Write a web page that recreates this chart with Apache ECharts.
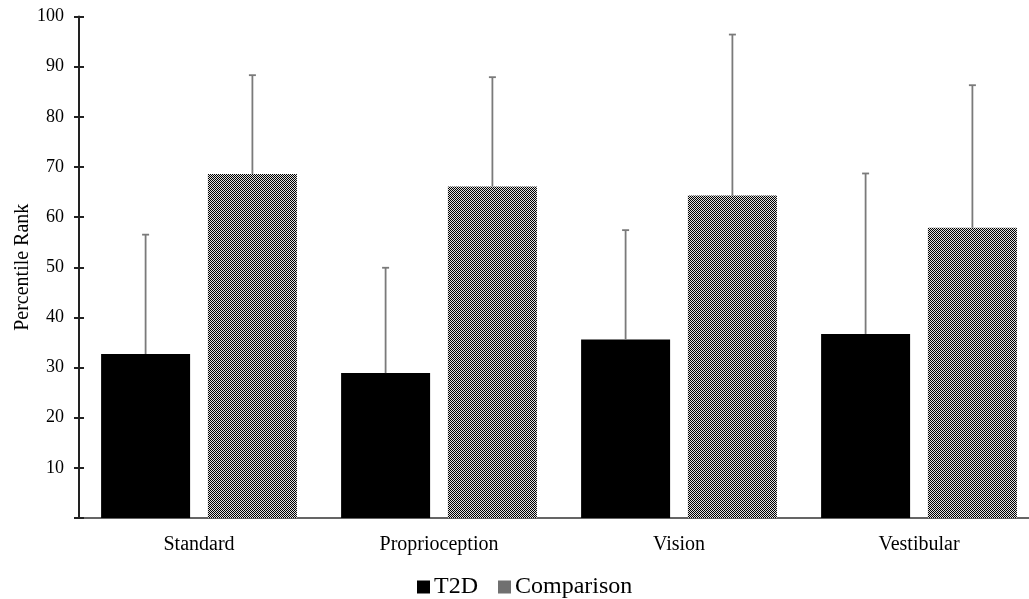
<!DOCTYPE html>
<html>
<head>
<meta charset="utf-8">
<script src="https://cdn.jsdelivr.net/npm/echarts@6/dist/echarts.min.js"></script>
<style>
html,body{margin:0;padding:0;background:#fff;}
#chart{width:1029px;height:599px;}
</style>
</head>
<body>
<div id="chart"></div>
<script>
// ---- data ----
var categories = ['Standard', 'Proprioception', 'Vision', 'Vestibular'];
var seriesNames = ['T2D', 'Comparison'];
var t2dMean = [32.7, 28.9, 35.6, 36.7];
var t2dUpper = [56.5, 49.9, 57.4, 68.7];
var compMean = [68.6, 66.1, 64.3, 57.9];
var compUpper = [88.3, 87.9, 96.4, 86.3];
var yTicks = [0, 10, 20, 30, 40, 50, 60, 70, 80, 90, 100];

// ---- styles ----
var FONT = 'Liberation Serif';
var BAR_W = 89;
var BAR_GAP = 0.2;

function makePattern() {
  var c = document.createElement('canvas');
  c.width = 2; c.height = 2;
  var ctx = c.getContext('2d');
  ctx.fillStyle = '#e0e0e0';
  ctx.fillRect(0, 0, 2, 2);
  ctx.fillStyle = '#000000';
  ctx.fillRect(0, 0, 1, 1);
  ctx.fillRect(1, 1, 1, 1);
  return { image: c, repeat: 'repeat' };
}
var pattern = makePattern();

function errData(means, uppers) {
  return means.map(function (m, i) { return [i, m, uppers[i]]; });
}

function errRender(side) {
  return function (params, api) {
    var off = side * BAR_W * (1 + BAR_GAP) / 2;
    var p0 = api.coord([api.value(0), api.value(1)]);
    var p1 = api.coord([api.value(0), api.value(2)]);
    var x = p0[0] + off;
    var capHalf = 3.5;
    var style = { stroke: '#7a7a7a', lineWidth: 1.8 };
    return {
      type: 'group',
      children: [
        { type: 'line', shape: { x1: x, y1: p0[1], x2: x, y2: p1[1] }, style: style },
        { type: 'line', shape: { x1: x - capHalf, y1: p1[1], x2: x + capHalf, y2: p1[1] }, style: style }
      ]
    };
  };
}

var chart = echarts.init(document.getElementById('chart'), null, { renderer: 'canvas' });
var yMin = yTicks[0], yMax = yTicks[yTicks.length - 1], yInt = yTicks[1] - yTicks[0];

chart.setOption({
  animation: false,
  backgroundColor: '#ffffff',
  textStyle: { fontFamily: FONT },
  grid: { left: 79, top: 16.5, width: 960, height: 501.5, containLabel: false, outerBoundsMode: 'none' },
  legend: {
    data: seriesNames,
    left: 412,
    top: 570,
    itemWidth: 13,
    itemHeight: 13,
    itemGap: 20,
    textStyle: { fontFamily: FONT, fontSize: 24, color: '#000', padding: [0, 0, 0, -1] },
    icon: 'rect'
  },
  xAxis: {
    type: 'category',
    data: categories,
    axisLine: { lineStyle: { color: '#333', width: 1.5 } },
    axisTick: { show: false },
    axisLabel: { fontFamily: FONT, fontSize: 20, color: '#000', margin: 17 }
  },
  yAxis: [{
    type: 'value',
    min: yMin, max: yMax, interval: yInt,
    name: 'Percentile Rank',
    nameLocation: 'middle',
    nameGap: 46,
    nameMoveOverlap: false,
    nameTextStyle: { fontFamily: FONT, fontSize: 20, color: '#000' },
    splitLine: { show: false },
    axisLine: { show: true, lineStyle: { color: '#222', width: 2 } },
    axisTick: { show: true, length: 5, lineStyle: { color: '#222', width: 2 } },
    axisLabel: {
      fontFamily: FONT, fontSize: 18, color: '#000', margin: 15,
      formatter: function (v) { return v === 0 ? '' : String(v); }
    }
  }, {
    type: 'value',
    position: 'left',
    min: yMin, max: yMax, interval: yInt,
    splitLine: { show: false },
    axisLine: { show: false },
    axisTick: { show: true, inside: true, length: 5, lineStyle: { color: '#222', width: 2 } },
    axisLabel: { show: false }
  }],
  series: [{
    name: seriesNames[0],
    type: 'bar',
    data: t2dMean,
    barWidth: BAR_W,
    barGap: (BAR_GAP * 100) + '%',
    itemStyle: { color: '#000000' }
  }, {
    name: seriesNames[1],
    type: 'bar',
    data: compMean,
    barWidth: BAR_W,
    barGap: (BAR_GAP * 100) + '%',
    itemStyle: { color: pattern }
  }, {
    type: 'custom',
    renderItem: errRender(-1),
    data: errData(t2dMean, t2dUpper),
    encode: { x: 0, y: [1, 2] },
    z: 5,
    silent: true
  }, {
    type: 'custom',
    renderItem: errRender(1),
    data: errData(compMean, compUpper),
    encode: { x: 0, y: [1, 2] },
    z: 5,
    silent: true
  }]
});
</script>
</body>
</html>
